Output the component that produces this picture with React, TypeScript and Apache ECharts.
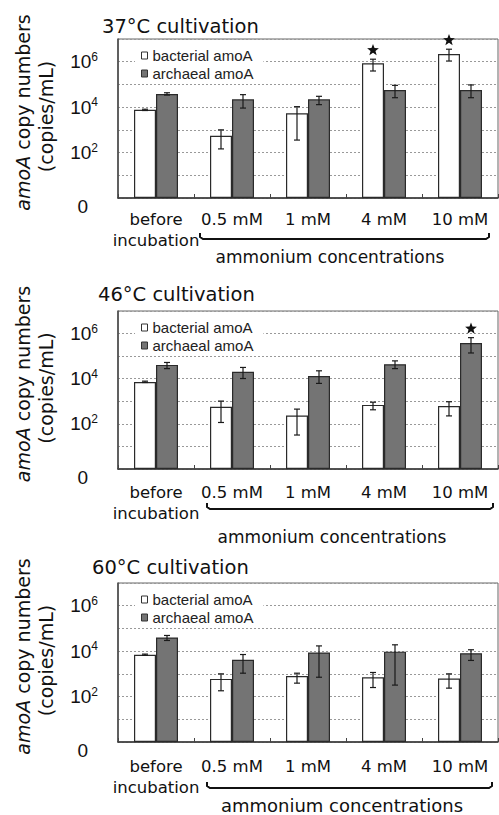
import React, { useEffect, useRef } from 'react';
import * as echarts from 'echarts';

const categories = ['before\nincubation', '0.5 mM', '1 mM', '4 mM', '10 mM'];
const panelTitles = ['37°C cultivation', '46°C cultivation', '60°C cultivation'];
const seriesNames = ['bacterial amoA', 'archaeal amoA'];
const groupLabel = 'ammonium concentrations';

// 37 °C
const bact37 = [7600, 550, 5400, 850000, 2200000];
const bact37Lo = [7100, 145, 355, 390000, 1070000];
const bact37Hi = [8100, 1000, 10500, 1290000, 3550000];
const arch37 = [38000, 22000, 22000, 57000, 57000];
const arch37Lo = [34000, 9100, 12900, 26000, 26000];
const arch37Hi = [43000, 35500, 30000, 91000, 95000];
const star37Bact = [0, 0, 0, 1, 1];
const star37Arch = [0, 0, 0, 0, 0];

// 46 °C
const bact46 = [7200, 575, 235, 690, 620];
const bact46Lo = [6800, 115, 32, 420, 225];
const bact46Hi = [7800, 1020, 450, 910, 955];
const arch46 = [41000, 20500, 13200, 44000, 380000];
const arch46Lo = [28000, 10200, 6200, 28000, 138000];
const arch46Hi = [52500, 31600, 22400, 61700, 660000];
const star46Bact = [0, 0, 0, 0, 0];
const star46Arch = [0, 0, 0, 0, 1];

// 60 °C
const bact60 = [6900, 600, 810, 710, 620];
const bact60Lo = [6500, 180, 390, 250, 235];
const bact60Hi = [7400, 1000, 1070, 1150, 1000];
const arch60 = [40000, 4200, 8700, 9500, 8100];
const arch60Lo = [29500, 1070, 710, 320, 3900];
const arch60Hi = [49000, 7100, 17000, 19000, 11500];
const star60Bact = [0, 0, 0, 0, 0];
const star60Arch = [0, 0, 0, 0, 0];

const panels = [
  { bact: bact37, bLo: bact37Lo, bHi: bact37Hi, arch: arch37, aLo: arch37Lo, aHi: arch37Hi, sB: star37Bact, sA: star37Arch },
  { bact: bact46, bLo: bact46Lo, bHi: bact46Hi, arch: arch46, aLo: arch46Lo, aHi: arch46Hi, sB: star46Bact, sA: star46Arch },
  { bact: bact60, bLo: bact60Lo, bHi: bact60Hi, arch: arch60, aLo: arch60Lo, aHi: arch60Hi, sB: star60Bact, sA: star60Arch },
];

// layout
const gridTops = [39, 311, 583];
const gridHeights = [159, 158, 159];
const labelMargins = [10.5, 12.5, 14];
const titlePos = [[102, 26], [98, 294], [92, 567.5]];
const bracketPos = [[200, 489, 239], [207, 493, 509], [207, 492, 788]];
const groupLabelPos = [[330, 256.7, 17], [332, 536.7, 17], [342, 805, 18]];

const BAR_W = 22;
const TXT = '#111';
const SANS = 'DejaVu Sans';
const ARIAL = 'Liberation Sans, Arial';

function starPoints(cx: number, cy: number, R: number, r: number) {
  const pts: number[][] = [];
  for (let k = 0; k < 10; k++) {
    const ang = -Math.PI / 2 + (k * Math.PI) / 5;
    const rad = k % 2 === 0 ? R : r;
    pts.push([cx + rad * Math.cos(ang), cy + rad * Math.sin(ang)]);
  }
  return pts;
}

function renderErr(params: any, api: any) {
  const cat = api.value(0);
  const lo = api.value(1);
  const hi = api.value(2);
  const side = api.value(3);
  const star = api.value(4);
  const pHi = api.coord([cat, hi]);
  const pLo = api.coord([cat, lo]);
  const x = pHi[0] + side * (BAR_W / 2);
  const cap = 3;
  const ls = { stroke: '#1a1a1a', lineWidth: 1.2 };
  const children: any[] = [
    { type: 'line', shape: { x1: x, y1: pHi[1], x2: x, y2: pLo[1] }, style: ls },
    { type: 'line', shape: { x1: x - cap, y1: pHi[1], x2: x + cap, y2: pHi[1] }, style: ls },
    { type: 'line', shape: { x1: x - cap, y1: pLo[1], x2: x + cap, y2: pLo[1] }, style: ls },
  ];
  if (star) {
    children.push({
      type: 'polygon',
      shape: { points: starPoints(x, pHi[1] - 9, 6.2, 2.6) },
      style: { fill: '#111' },
    });
  }
  return { type: 'group', children };
}

function buildOption() {
  const grid: any[] = [];
  const xAxis: any[] = [];
  const yAxis: any[] = [];
  const series: any[] = [];
  const legend: any[] = [];
  const graphic: any[] = [];

  panels.forEach((p, i) => {
    const top = gridTops[i];
    const h = gridHeights[i];
    grid.push({
      left: 118, right: 1, top, height: h,
      show: true, borderColor: '#666', borderWidth: 1, backgroundColor: 'transparent',
    });
    xAxis.push({
      type: 'category', gridIndex: i, data: categories,
      axisLine: { onZero: false, lineStyle: { color: '#333', width: 1.5 } },
      axisTick: { show: true, inside: true, length: 4, lineStyle: { color: '#444' } },
      axisLabel: {
        interval: 0, margin: labelMargins[i], color: TXT,
        fontFamily: SANS, fontSize: 16.5, lineHeight: 21,
      },
      splitLine: { show: false },
    });
    yAxis.push({
      type: 'log', gridIndex: i, logBase: 10, min: 1, max: 1e7, splitNumber: 7,
      axisLine: { show: true, lineStyle: { color: '#444', width: 1.5 } },
      axisTick: { show: false },
      splitLine: { show: true, lineStyle: { color: '#999', type: [2, 2], width: 1 } },
      axisLabel: {
        margin: 20, color: TXT,
        formatter: (v: number) => {
          const e = Math.round(Math.log10(v));
          if (e === 0) return '{z|0}';
          if (e % 2 === 0 && e <= 6) return '{b|10}{s|' + e + '}';
          return '';
        },
        rich: {
          b: { fontFamily: ARIAL, fontSize: 19, lineHeight: 22, color: TXT },
          s: { fontFamily: ARIAL, fontSize: 12, lineHeight: 8, verticalAlign: 'top', color: TXT },
          z: { fontFamily: ARIAL, fontSize: 19, lineHeight: 22, padding: [16, 10, 0, 0], color: TXT },
        },
      },
    });
    series.push({
      type: 'bar', name: seriesNames[0], xAxisIndex: i, yAxisIndex: i, data: p.bact,
      barWidth: BAR_W, barGap: '0%',
      itemStyle: { color: '#ffffff', borderColor: '#2a2a2a', borderWidth: 1.2 },
    });
    series.push({
      type: 'bar', name: seriesNames[1], xAxisIndex: i, yAxisIndex: i, data: p.arch,
      barWidth: BAR_W, barGap: '0%',
      itemStyle: { color: '#747474', borderColor: '#2a2a2a', borderWidth: 1.2 },
    });
    const errData: any[] = [];
    p.bact.forEach((_, k) => errData.push([k, p.bLo[k], p.bHi[k], -1, p.sB[k]]));
    p.arch.forEach((_, k) => errData.push([k, p.aLo[k], p.aHi[k], 1, p.sA[k]]));
    series.push({
      type: 'custom', name: 'error' + i, xAxisIndex: i, yAxisIndex: i,
      data: errData, encode: { x: 0, y: [1, 2] }, renderItem: renderErr, clip: false, z: 10,
    });
    legend.push({
      data: seriesNames, left: 135, top: top + 5, orient: 'vertical',
      itemWidth: 6, itemHeight: 7, itemGap: 3, padding: [4, 10, 2, 6],
      backgroundColor: '#fff', selectedMode: false, icon: 'rect',
      itemStyle: { borderColor: '#333', borderWidth: 1 },
      textStyle: { fontFamily: ARIAL, fontSize: 15, color: '#222', lineHeight: 15 },
    });

    // title
    graphic.push({
      type: 'text', x: titlePos[i][0], y: titlePos[i][1],
      style: { text: panelTitles[i], fontFamily: SANS, fontSize: 19.5, fill: TXT, textAlign: 'left', textVerticalAlign: 'middle' },
    });
    // y axis name (two lines, rotated)
    const cy = top + h / 2 - 6;
    graphic.push({
      type: 'text', x: 23, y: cy, rotation: Math.PI / 2,
      style: {
        text: '{i|amoA} copy numbers', fontFamily: SANS, fontSize: 19, fill: TXT,
        textAlign: 'center', textVerticalAlign: 'middle',
        rich: { i: { fontStyle: 'italic', fontFamily: SANS, fontSize: 19, fill: TXT } },
      },
    });
    graphic.push({
      type: 'text', x: 46, y: cy + 4, rotation: Math.PI / 2,
      style: { text: '(copies/mL)', fontFamily: SANS, fontSize: 19, fill: TXT, textAlign: 'center', textVerticalAlign: 'middle' },
    });
    // bracket
    const [x1, x2, by] = bracketPos[i];
    graphic.push({
      type: 'polyline',
      shape: { points: [[x1, by - 6], [x1, by - 2], [x1 + 3, by], [x2 - 3, by], [x2, by - 2], [x2, by - 6]] },
      style: { stroke: '#111', lineWidth: 2, fill: 'none' },
    });
    graphic.push({
      type: 'text', x: groupLabelPos[i][0], y: groupLabelPos[i][1],
      style: { text: groupLabel, fontFamily: SANS, fontSize: groupLabelPos[i][2], fill: TXT, textAlign: 'center', textVerticalAlign: 'middle' },
    });
  });

  return {
    animation: false,
    backgroundColor: '#ffffff',
    grid, xAxis, yAxis, series, legend, graphic,
  };
}

export default function App() {
  const ref = useRef<HTMLDivElement>(null);
  useEffect(() => {
    if (!ref.current) return;
    const chart = echarts.init(ref.current, undefined, { renderer: 'svg' });
    chart.setOption(buildOption() as any);
    return () => chart.dispose();
  }, []);
  return (
    <div
      ref={ref}
      style={{ position: 'fixed', left: 0, top: 0, width: 499, height: 815, background: '#fff' }}
    />
  );
}
